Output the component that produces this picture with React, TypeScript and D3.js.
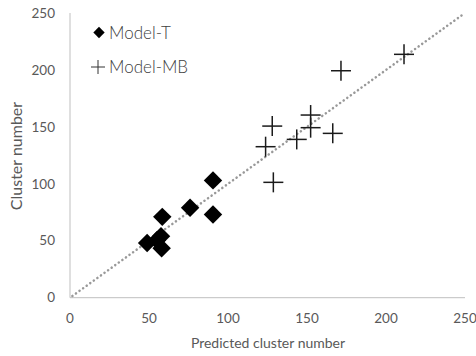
import React, { useRef, useEffect } from 'react';
import * as d3 from 'd3';

const modelT: [number, number][] = [
    [90.5, 103], [76, 79], [90.5, 73], [58.4, 71],
    [57.6, 54], [55, 50.5], [48.8, 48], [58, 43.4],
];
const modelMB: [number, number][] = [
    [211.4, 213.7], [171.5, 199.3], [152.3, 160.4], [152.3, 149.3],
    [128, 150.7], [143.5, 139], [166.3, 144.3], [123.8, 132.6], [128.7, 101.3],
];
const ticks = [0, 50, 100, 150, 200, 250];

const FONT = 'Lato, "Open Sans", sans-serif';

export default function App() {
    const svgRef = useRef<SVGSVGElement | null>(null);

    useEffect(() => {
        if (!svgRef.current) return;
        const svg = d3.select(svgRef.current);
        svg.selectAll("*").remove();

        const x = d3.scaleLinear().domain([0, 250]).range([70, 465]);
        const y = d3.scaleLinear().domain([0, 250]).range([297.7, 13]);

        // axes lines
        svg.append("line")
            .attr("x1", x(0)).attr("x2", x(0))
            .attr("y1", y(0)).attr("y2", y(250))
            .attr("stroke", "#bfbfbf").attr("stroke-width", 1);
        svg.append("line")
            .attr("x1", x(0)).attr("x2", x(250))
            .attr("y1", y(0)).attr("y2", y(0))
            .attr("stroke", "#bfbfbf").attr("stroke-width", 1);

        // tick labels
        svg.append("g").selectAll("text")
            .data(ticks).enter().append("text")
            .attr("x", 55).attr("y", d => y(d))
            .attr("dy", "0.35em")
            .attr("text-anchor", "end")
            .attr("fill", "#595959")
            .style("font-family", FONT).style("font-size", "13.5px")
            .text(d => d);
        svg.append("g").selectAll("text")
            .data(ticks).enter().append("text")
            .attr("x", d => x(d)).attr("y", 318)
            .attr("dy", "0.35em")
            .attr("text-anchor", "middle")
            .attr("fill", "#595959")
            .style("font-family", FONT).style("font-size", "13.5px")
            .text(d => d);

        // axis titles
        svg.append("text")
            .attr("x", 268).attr("y", 343).attr("dy", "0.35em")
            .attr("text-anchor", "middle").attr("fill", "#595959")
            .style("font-family", FONT).style("font-size", "14px")
            .text("Predicted cluster number");
        svg.append("text")
            .attr("transform", `translate(16,${156}) rotate(-90)`)
            .attr("dy", "0.35em")
            .attr("text-anchor", "middle").attr("fill", "#595959")
            .style("font-family", FONT).style("font-size", "16px")
            .text("Cluster number");

        // diagonal reference line
        svg.append("line")
            .attr("x1", x(1.5)).attr("y1", y(1.5))
            .attr("x2", x(248)).attr("y2", y(248))
            .attr("stroke", "#999999").attr("stroke-width", 2.5)
            .attr("stroke-linecap", "round")
            .attr("stroke-dasharray", "0.1,4.3");

        // Model-T diamonds
        const diamond = d3.symbol().type(d3.symbolSquare).size(170);
        svg.append("g").selectAll("path")
            .data(modelT).enter().append("path")
            .attr("d", diamond)
            .attr("transform", d => `translate(${x(d[0])},${y(d[1])}) rotate(45)`)
            .attr("fill", "#000");

        // Model-MB crosses
        const plus = svg.append("g").selectAll("g")
            .data(modelMB).enter().append("g")
            .attr("transform", d => `translate(${x(d[0])},${y(d[1])})`);
        plus.append("line").attr("x1", -10).attr("x2", 10).attr("y1", 0).attr("y2", 0)
            .attr("stroke", "#1a1a1a").attr("stroke-width", 1.5);
        plus.append("line").attr("x1", 0).attr("x2", 0).attr("y1", -10).attr("y2", 10)
            .attr("stroke", "#1a1a1a").attr("stroke-width", 1.5);

        // Legend
        const legend = svg.append("g");
        legend.append("path")
            .attr("d", d3.symbol().type(d3.symbolSquare).size(64))
            .attr("transform", "translate(99,32.5) rotate(45)")
            .attr("fill", "#000");
        legend.append("text")
            .attr("x", 109).attr("y", 33).attr("dy", "0.35em")
            .attr("fill", "#404040")
            .style("font-family", FONT).style("font-size", "17px")
            .style("font-weight", 300)
            .text("Model-T");
        legend.append("line").attr("x1", 91).attr("x2", 105).attr("y1", 67).attr("y2", 67)
            .attr("stroke", "#333").attr("stroke-width", 1);
        legend.append("line").attr("x1", 98).attr("x2", 98).attr("y1", 60).attr("y2", 74)
            .attr("stroke", "#333").attr("stroke-width", 1);
        legend.append("text")
            .attr("x", 109).attr("y", 67).attr("dy", "0.35em")
            .attr("fill", "#404040")
            .style("font-family", FONT).style("font-size", "17px")
            .style("font-weight", 300)
            .text("Model-MB");
    }, []);

    return (
        <svg ref={svgRef} width={476} height={356}
            style={{ position: 'absolute', left: 0, top: 0, background: '#fff' }}></svg>
    );
}
